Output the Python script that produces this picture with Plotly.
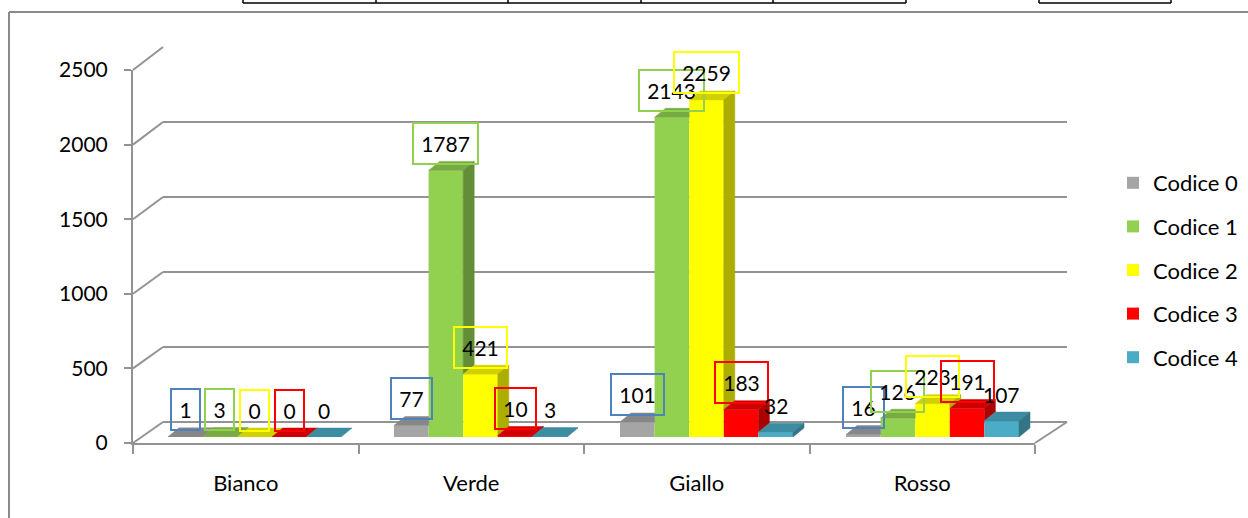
import plotly.graph_objects as go

# ---------------- data ----------------
categories = ["Bianco", "Verde", "Giallo", "Rosso"]
series_names = ["Codice 0", "Codice 1", "Codice 2", "Codice 3", "Codice 4"]
codice_0 = [1, 77, 101, 16]
codice_1 = [3, 1787, 2143, 126]
codice_2 = [0, 421, 2259, 223]
codice_3 = [0, 10, 183, 191]
codice_4 = [0, 3, 32, 107]
y_ticks = [0, 500, 1000, 1500, 2000, 2500]

series_values = [codice_0, codice_1, codice_2, codice_3, codice_4]

# ---------------- style ----------------
colors = ["#A5A5A5", "#92D050", "#FFFF00", "#FF0000", "#4BACC6"]
label_borders = ["#4F81BD", "#92D050", "#FFFF00", "#FF0000", None]
FONT = "Lato, 'Liberation Sans', sans-serif"
AXIS_GRAY = "#939393"

W, H = 1248, 518
L, R, T, B = 133, 181, 47, 75
PW, PH = W - L - R, H - T - B
YMAX = 2500


def px_x(p):
    return (p - L) / PW


def px_y(p):
    return (H - B - p) / PH


def shade(hex_color, f):
    h = hex_color.lstrip("#")
    r, g, b = (int(h[i:i + 2], 16) for i in (0, 2, 4))
    return "rgb(%d,%d,%d)" % (round(r * f), round(g * f), round(b * f))


# frames (pixel geometry of the pseudo-3D chart)
FRONT_X0, FRONT_X1, FRONT_Y0, FRONT_Y1 = 133, 1035, 443, 70
BACK_X0, BACK_X1, BACK_Y0, BACK_Y1 = 163, 1067, 422, 47
BAR_X0, BAR_X1, BAR_Y0, BAR_Y1 = 141.5, 1045.5, 437, 64

cat_px = (BAR_X1 - BAR_X0) / len(categories)
val_px = (BAR_Y0 - BAR_Y1) / YMAX
group_w = 0.7655
bar_w = group_w / len(series_names)
depth_dx = 11 / cat_px
depth_dy = 9 / val_px

fig = go.Figure()

# back wall (gridlines) subplot: x / y
fig.add_trace(go.Scatter(x=[None], y=[None], xaxis="x", yaxis="y",
                         showlegend=False, hoverinfo="skip"))

# bars: front faces
for j, (name, vals) in enumerate(zip(series_names, series_values)):
    fig.add_trace(go.Bar(
        x=list(range(len(categories))), y=vals, name=name,
        width=bar_w, offset=-group_w / 2 + j * bar_w,
        marker=dict(color=colors[j], line=dict(width=0)),
        xaxis="x2", yaxis="y2", legendgroup=name,
        customdata=categories, hovertemplate="%{customdata}: %{y}<extra>" + name + "</extra>",
    ))

# bars: top and side faces (clipped where the next bar hides them)
for i in range(len(categories)):
    for j in range(len(series_names)):
        h = series_values[j][i]
        hn = series_values[j + 1][i] if j + 1 < len(series_names) else 0
        a = i - group_w / 2 + j * bar_w
        x1 = a + bar_w
        # top face
        if hn <= h:
            tx = [a, a + depth_dx, x1 + depth_dx, x1, a]
            ty = [h, h + depth_dy, h + depth_dy, h, h]
        else:
            d = hn - h
            if d < depth_dy:
                tx = [a, a + depth_dx, x1 + depth_dx * (1 - d / depth_dy), x1, x1, a]
                ty = [h, h + depth_dy, h + depth_dy, h + d, h, h]
            else:
                tx = [a, a + depth_dx, x1, x1, a]
                ty = [h, h + depth_dy, h + depth_dy, h, h]
        fig.add_trace(go.Scatter(
            x=tx, y=ty, fill="toself", fillcolor=shade(colors[j], 0.82),
            mode="lines", line=dict(width=0.5, color=shade(colors[j], 0.82)),
            xaxis="x2", yaxis="y2", showlegend=False, hoverinfo="skip"))
        # side face
        if h > hn:
            sx = [x1, x1 + depth_dx, x1 + depth_dx, x1, x1]
            sy = [hn, hn + depth_dy, h + depth_dy, h, hn]
            fig.add_trace(go.Scatter(
                x=sx, y=sy, fill="toself", fillcolor=shade(colors[j], 0.68),
                mode="lines", line=dict(width=0.5, color=shade(colors[j], 0.68)),
                xaxis="x2", yaxis="y2", showlegend=False, hoverinfo="skip"))

# front frame (axis labels)
fig.add_trace(go.Scatter(x=categories, y=[0] * len(categories), xaxis="x3", yaxis="y3",
                         mode="markers", marker=dict(opacity=0), showlegend=False,
                         hoverinfo="skip"))

# data labels
annotations = []
for j in range(len(series_names)):
    for i in range(len(categories)):
        v = series_values[j][i]
        txt = str(v)
        ann = dict(
            x=i - group_w / 2 + (j + 0.5) * bar_w, y=v, xref="x2", yref="y2",
            text=txt, showarrow=False, yshift=27,
            font=dict(family=FONT, size=21, color="#000000"),
            xanchor="center", yanchor="middle",
        )
        if label_borders[j]:
            ann.update(bordercolor=label_borders[j], borderwidth=2, borderpad=2,
                       width=12 * len(txt) + 11, height=35)
        annotations.append(ann)

# decorative lines: perspective diagonals, floor edge, chart border, table edge
shapes = []
for v in y_ticks:
    yf = FRONT_Y0 - v * (FRONT_Y0 - FRONT_Y1) / YMAX
    yb = BACK_Y0 - v * (BACK_Y0 - BACK_Y1) / YMAX
    shapes.append(dict(type="line", xref="paper", yref="paper",
                       x0=px_x(FRONT_X0), y0=px_y(yf), x1=px_x(BACK_X0), y1=px_y(yb),
                       line=dict(color=AXIS_GRAY, width=2), layer="below"))
shapes.append(dict(type="line", xref="paper", yref="paper",
                   x0=px_x(FRONT_X1), y0=px_y(FRONT_Y0), x1=px_x(BACK_X1), y1=px_y(BACK_Y0),
                   line=dict(color=AXIS_GRAY, width=2), layer="below"))
# chart area border
shapes.append(dict(type="line", xref="paper", yref="paper",
                   x0=px_x(9), y0=px_y(12), x1=px_x(1250), y1=px_y(12),
                   line=dict(color="#8A8A8A", width=2)))
shapes.append(dict(type="line", xref="paper", yref="paper",
                   x0=px_x(9), y0=px_y(12), x1=px_x(9), y1=px_y(520),
                   line=dict(color="#8A8A8A", width=2)))
# table fragment at the top
for xa, xb in [(243, 906), (1039, 1171)]:
    shapes.append(dict(type="line", xref="paper", yref="paper",
                       x0=px_x(xa), y0=px_y(3), x1=px_x(xb), y1=px_y(3),
                       line=dict(color="#000000", width=1.5)))
for xv in [243, 376, 508, 641, 773, 906, 1039, 1171]:
    shapes.append(dict(type="line", xref="paper", yref="paper",
                       x0=px_x(xv), y0=px_y(-2), x1=px_x(xv), y1=px_y(3),
                       line=dict(color="#000000", width=1.5)))

hidden = dict(showgrid=False, zeroline=False, showticklabels=False, showline=False,
              ticks="", fixedrange=True)

fig.update_layout(
    width=W, height=H,
    margin=dict(l=L, r=R, t=T, b=B, pad=0, autoexpand=False),
    paper_bgcolor="#FFFFFF", plot_bgcolor="rgba(0,0,0,0)",
    font=dict(family=FONT, size=20, color="#000000"),
    barmode="overlay",
    showlegend=True,
    legend=dict(x=px_x(1113), y=px_y(162), xanchor="left", yanchor="top",
                font=dict(family=FONT, size=22, color="#000000"),
                tracegroupgap=12, traceorder="grouped", bgcolor="rgba(0,0,0,0)",
                itemclick=False, itemdoubleclick=False),
    # back wall
    xaxis=dict(domain=[px_x(BACK_X0), px_x(BACK_X1)], range=[0, 1], anchor="y", **hidden),
    yaxis=dict(domain=[px_y(BACK_Y0), px_y(BACK_Y1)], range=[-0.5, YMAX + 0.5], anchor="x",
               tickvals=y_ticks, showgrid=True, gridcolor=AXIS_GRAY, gridwidth=2,
               zeroline=True, zerolinecolor=AXIS_GRAY, zerolinewidth=2,
               showticklabels=False, showline=False, ticks="", fixedrange=True),
    # bars
    xaxis2=dict(domain=[px_x(BAR_X0), px_x(BAR_X1)], range=[-0.5, len(categories) - 0.5],
                anchor="y2", **hidden),
    yaxis2=dict(domain=[px_y(BAR_Y0), px_y(BAR_Y1)], range=[0, YMAX], anchor="x2", **hidden),
    # front axes
    xaxis3=dict(domain=[px_x(FRONT_X0), px_x(FRONT_X1)], type="category",
                categoryorder="array", categoryarray=categories,
                range=[-0.5, len(categories) - 0.5], anchor="y3",
                showline=True, linecolor=AXIS_GRAY, linewidth=2,
                ticks="outside", tickson="boundaries", ticklen=9, tickwidth=2,
                tickcolor=AXIS_GRAY, showgrid=False, zeroline=False,
                tickfont=dict(family=FONT, size=22, color="#000000"),
                ticklabelstandoff=20, fixedrange=True),
    yaxis3=dict(domain=[px_y(FRONT_Y0), px_y(FRONT_Y1)], range=[0, YMAX], anchor="x3",
                tickvals=y_ticks, showline=True, linecolor=AXIS_GRAY, linewidth=2,
                ticks="outside", ticklen=7, tickwidth=2, tickcolor=AXIS_GRAY,
                showgrid=False, zeroline=False,
                tickfont=dict(family=FONT, size=21, color="#000000"),
                ticklabelstandoff=12, fixedrange=True),
    annotations=annotations,
    shapes=shapes,
)

fig.write_html("out.html", config={"displayModeBar": False},
               post_script="document.body.style.margin='0';document.body.style.padding='0';")
